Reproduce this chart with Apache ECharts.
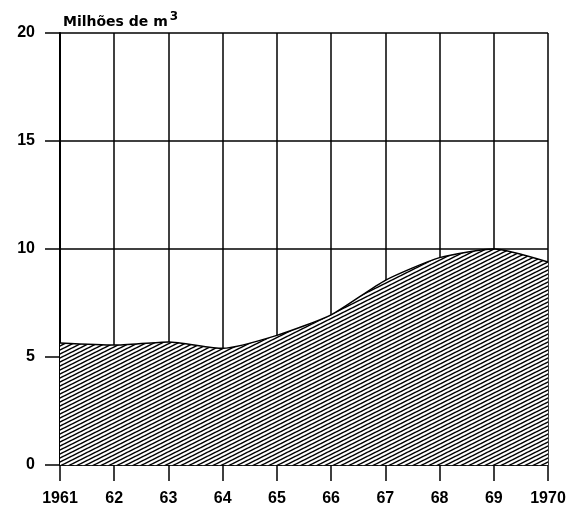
<!DOCTYPE html>
<html>
<head>
<meta charset="utf-8">
<script src="https://cdn.jsdelivr.net/npm/echarts@6/dist/echarts.min.js"></script>
<style>
  html, body { margin: 0; padding: 0; background: #fff; }
  #chart { width: 581px; height: 513px; }
</style>
</head>
<body>
<div id="chart"></div>
<script>
// Annual volume, millions of cubic metres
const years = ['1961', '62', '63', '64', '65', '66', '67', '68', '69', '1970'];
const volume = [5.65, 5.55, 5.7, 5.4, 6.0, 6.95, 8.55, 9.6, 10.0, 9.4];
const yTicks = [0, 5, 10, 15, 20];

// Diagonal hatch tile used to fill the area under the curve
function hatchTile() {
  const w = 8, h = 4;
  const c = document.createElement('canvas');
  c.width = w; c.height = h;
  const g = c.getContext('2d');
  g.fillStyle = '#fff';
  g.fillRect(0, 0, w, h);
  g.strokeStyle = '#000';
  g.lineWidth = 1.5;
  for (const dy of [-h, 0, h]) {
    g.beginPath();
    g.moveTo(0, h + dy);
    g.lineTo(w, dy);
    g.stroke();
  }
  return c;
}

const numFont = '"Liberation Sans", Arial, sans-serif';
const titleFont = '"DejaVu Sans", sans-serif';
const chart = echarts.init(document.getElementById('chart'), null, { renderer: 'canvas' });

chart.setOption({
  backgroundColor: '#fff',
  animation: false,
  title: {
    text: 'Milhões de m{sup|3}',
    left: 58,
    top: 6,
    textStyle: {
      fontFamily: titleFont,
      fontSize: 14,
      fontWeight: 'bold',
      color: '#000',
      rich: {
        sup: { fontFamily: titleFont, fontSize: 12, fontWeight: 'bold', color: '#000', verticalAlign: 'bottom', padding: [0, 0, 10, 2] }
      }
    }
  },
  grid: { left: 60, right: 33, top: 33, bottom: 48 },
  xAxis: {
    type: 'category',
    data: years,
    boundaryGap: false,
    axisLine: { show: true, lineStyle: { color: '#000', width: 1.5, type: [6, 2] } },
    axisTick: { show: true, length: 16, lineStyle: { color: '#000', width: 1.5 } },
    axisLabel: { color: '#000', fontFamily: numFont, fontSize: 16, fontWeight: 'bold', margin: 26 },
    splitLine: { show: true, lineStyle: { color: '#000', width: 1.5 } }
  },
  yAxis: {
    type: 'value',
    min: yTicks[0],
    max: yTicks[yTicks.length - 1],
    interval: 5,
    axisLine: { show: true, lineStyle: { color: '#000', width: 2 } },
    axisTick: { show: true, length: 15, lineStyle: { color: '#000', width: 1.5 } },
    axisLabel: { color: '#000', fontFamily: numFont, fontSize: 16, fontWeight: 'bold', margin: 25 },
    splitLine: { show: true, lineStyle: { color: '#000', width: 1.5 } }
  },
  series: [{
    type: 'line',
    data: volume,
    smooth: 0.2,
    symbol: 'none',
    lineStyle: { color: '#000', width: 1.5 },
    areaStyle: { color: { image: hatchTile(), repeat: 'repeat' }, opacity: 1 },
    z: 5
  }]
});
</script>
</body>
</html>
